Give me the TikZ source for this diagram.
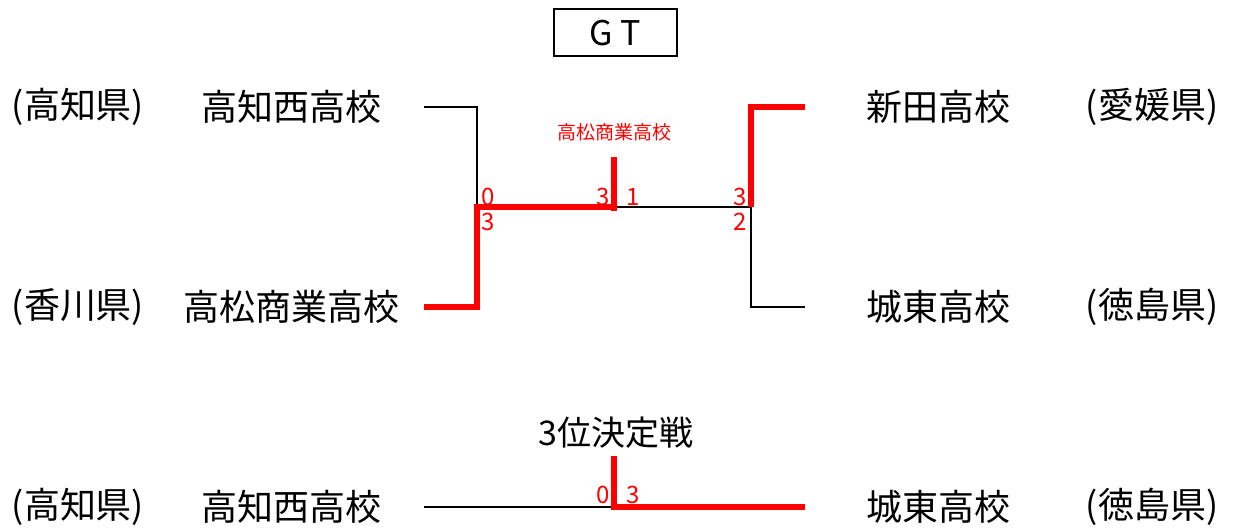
\documentclass[tikz,border=0pt]{standalone}
\usepackage{fontspec}
\setmainfont{Noto Sans CJK JP}
\tikzset{
  team/.style={inner sep=0pt,font=\fontsize{36}{40}\selectfont},
  score/.style={inner sep=0pt,text=red,font=\fontsize{24}{26}\selectfont},
  win/.style={red,line width=6pt},
  lose/.style={black,line width=2pt}
}
\begin{document}
\begin{tikzpicture}[x=1pt,y=-1pt]
        \useasboundingbox (0,0) rectangle (1235,529);
        \node[draw,line width=2pt,minimum width=123pt,minimum height=47pt,inner sep=0pt,
              font=\fontsize{34}{36}\selectfont] (gt) at (615,33) {G T};
        % final round
        \node[team] (p1) at (78,107) {(高知県)};
        \node[team] (t1) at (291,107) {高知西高校};
        \node[team] (p2) at (78,307) {(香川県)};
        \node[team] (t2) at (291,307) {高松商業高校};
        \node[team] (t3) at (938,107) {新田高校};
        \node[team] (p3) at (1152,107) {(愛媛県)};
        \node[team] (t4) at (938,307) {城東高校};
        \node[team] (p4) at (1152,307) {(徳島県)};
        \node[inner sep=0pt,text=red,font=\fontsize{19}{22}\selectfont] (champ) at (614,132) {高松商業高校};
        \coordinate (A) at (424,107);
        \coordinate (B) at (424,307);
        \coordinate (C) at (805,107);
        \coordinate (D) at (805,307);
        \coordinate (L) at (477,207);
        \coordinate (M) at (614,207);
        \coordinate (R) at (751,207);
        \coordinate (W) at (614,157);
        \coordinate (Wb) at (614,211);
        \draw[lose] (A) -| (L);
        \draw[lose] (M) -- (R) |- (D);
        \draw[win] (B) -| (L) -- (M);
        \draw[win] (R) |- (C);
        \draw[win] (W) -- (Wb);
        % third place
        \node[inner sep=0pt,font=\fontsize{34}{38}\selectfont] (third) at (616,433) {3位決定戦};
        \node[team] (p5) at (78,507) {(高知県)};
        \node[team] (t5) at (291,507) {高知西高校};
        \node[team] (t6) at (938,507) {城東高校};
        \node[team] (p6) at (1152,507) {(徳島県)};
        \coordinate (E) at (424,507);
        \coordinate (F) at (805,507);
        \coordinate (N) at (614,507);
        \coordinate (V) at (614,456);
        \draw[lose] (E) -- (N);
        \draw[win] (V) -- (N) -- (F);
        \foreach \x/\y/\s in {488/197/0,488/222/3,603/197/3,633/197/1,740/197/3,740/222/2,603/495/0,633/495/3}
            \node[score] (s-\x-\y) at (\x,\y) {\s};
\end{tikzpicture}
\end{document}
